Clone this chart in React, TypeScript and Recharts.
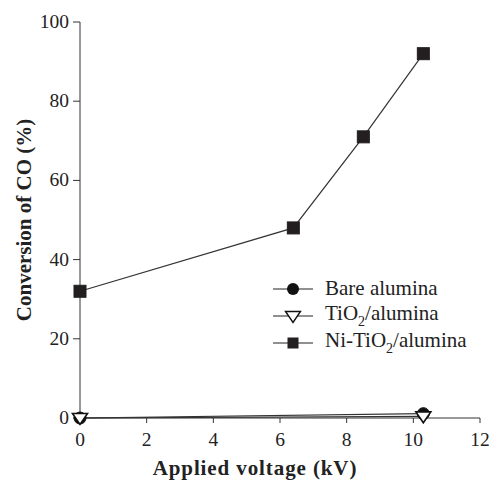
import React from 'react';
import { LineChart, Line, XAxis, YAxis } from 'recharts';

const bareX = [0, 10.3];
const bareY = [0, 1.1];
const tioX = [0, 10.3];
const tioY = [0, 0.4];
const niX = [0, 6.4, 8.5, 10.3];
const niY = [32, 48, 71, 92];
const xTicks = [0, 2, 4, 6, 8, 10, 12];
const yTicks = [0, 20, 40, 60, 80, 100];
const seriesNames = ['Bare alumina', 'TiO2/alumina', 'Ni-TiO2/alumina'];
const xTitle = 'Applied voltage (kV)';
const yTitle = 'Conversion of CO (%)';

const toRows = (xs: number[], ys: number[]) => xs.map((x, i) => ({ x, y: ys[i] }));
const bareData = toRows(bareX, bareY);
const tioData = toRows(tioX, tioY);
const niData = toRows(niX, niY);

const FONT = '"Liberation Serif", "Times New Roman", serif';
const INK = '#222';

const CircleDot = (p: any) => (
  <circle key={p.key ?? `c-${p.index}`} cx={p.cx} cy={p.cy} r={6} fill="#111" stroke="#111" strokeWidth={1} />
);
const TriDot = (p: any) => {
  const { cx, cy } = p;
  const r = 7.5;
  const pts = `${cx - r},${cy - r * 0.6} ${cx + r},${cy - r * 0.6} ${cx},${cy + r * 0.85}`;
  return <polygon key={p.key ?? `t-${p.index}`} points={pts} fill="#fff" stroke="#111" strokeWidth={1.6} />;
};
const SquareDot = (p: any) => (
  <rect key={p.key ?? `s-${p.index}`} x={p.cx - 6} y={p.cy - 6} width={12} height={12} fill="#231f20" stroke="#231f20" />
);

const XTick = (p: any) => (
  <text x={p.x} y={p.y + 21} textAnchor="middle" fontFamily={FONT} fontSize={19.5} fill={INK}>
    {p.payload.value}
  </text>
);
const YTick = (p: any) => (
  <text x={p.x - 2} y={p.y + 6} textAnchor="end" fontFamily={FONT} fontSize={19.5} fill={INK}>
    {p.payload.value}
  </text>
);

const XLabel = (p: any) => {
  const vb = p.viewBox || { x: 80, y: 418, width: 400, height: 65 };
  return (
    <text x={vb.x + vb.width / 2 - 25} y={vb.y + vb.height - 8} textAnchor="middle" fontFamily={FONT} fontSize={21} fontWeight="bold" letterSpacing={0.9} fill={INK}>
      {xTitle}
    </text>
  );
};
const YLabel = (p: any) => {
  const vb = p.viewBox || { x: 0, y: 22, width: 80, height: 396 };
  const x = vb.x + 31;
  const y = vb.y + vb.height / 2;
  return (
    <text x={x} y={y} transform={`rotate(-90, ${x}, ${y})`} textAnchor="middle" fontFamily={FONT} fontSize={21} fontWeight="bold" fill={INK}>
      {yTitle}
    </text>
  );
};

const withSub = (s: string) => {
  const i = s.indexOf('O2');
  if (i < 0) return s;
  return (
    <>
      {s.slice(0, i + 1)}
      <sub style={{ fontSize: 14, verticalAlign: -6 }}>2</sub>
      {s.slice(i + 2)}
    </>
  );
};

const LegendBox = () => {
  const icons = [
    <circle cx={20} cy={10} r={6} fill="#111" />,
    <polygon points="12.5,5.5 27.5,5.5 20,16.4" fill="#fff" stroke="#111" strokeWidth={1.4} />,
    <rect x={14.5} y={4.5} width={11} height={11} fill="#231f20" />,
  ];
  return (
    <div style={{ position: 'absolute', left: 273, top: 275, fontFamily: FONT, fontSize: 21, color: INK, lineHeight: 1 }}>
      {seriesNames.map((n, i) => (
        <div key={n} style={{ display: 'flex', alignItems: 'center', height: 27 }}>
          <svg width={40} height={20} style={{ marginRight: 12, flex: 'none' }}>
            <line x1={0} y1={10} x2={40} y2={10} stroke="#222" strokeWidth={1.2} />
            {icons[i]}
          </svg>
          <span style={{ whiteSpace: 'nowrap' }}>{withSub(n)}</span>
        </div>
      ))}
    </div>
  );
};

export default function App() {
  return (
    <div style={{ position: 'absolute', left: 0, top: 0, width: 491, height: 483, background: '#fff' }}>
      <LineChart width={491} height={483} margin={{ top: 22, right: 11, bottom: 0, left: 0 }}>
        <XAxis
          type="number"
          dataKey="x"
          domain={[0, 12]}
          ticks={xTicks}
          height={65}
          allowDuplicatedCategory={false}
          stroke="#333"
          tickSize={5}
          tickMargin={2}
          tick={XTick}
          label={XLabel}
        />
        <YAxis
          type="number"
          dataKey="y"
          domain={[0, 100]}
          ticks={yTicks}
          width={80}
          stroke="#333"
          tickSize={7}
          tickMargin={2}
          tick={YTick}
          label={YLabel}
        />
        <Line data={niData} dataKey="y" stroke="#333" strokeWidth={1.2} dot={SquareDot} isAnimationActive={false} />
        <Line data={bareData} dataKey="y" stroke="#333" strokeWidth={1.2} dot={CircleDot} isAnimationActive={false} />
        <Line data={tioData} dataKey="y" stroke="#333" strokeWidth={1.2} dot={TriDot} isAnimationActive={false} />
      </LineChart>
      <LegendBox />
    </div>
  );
}
